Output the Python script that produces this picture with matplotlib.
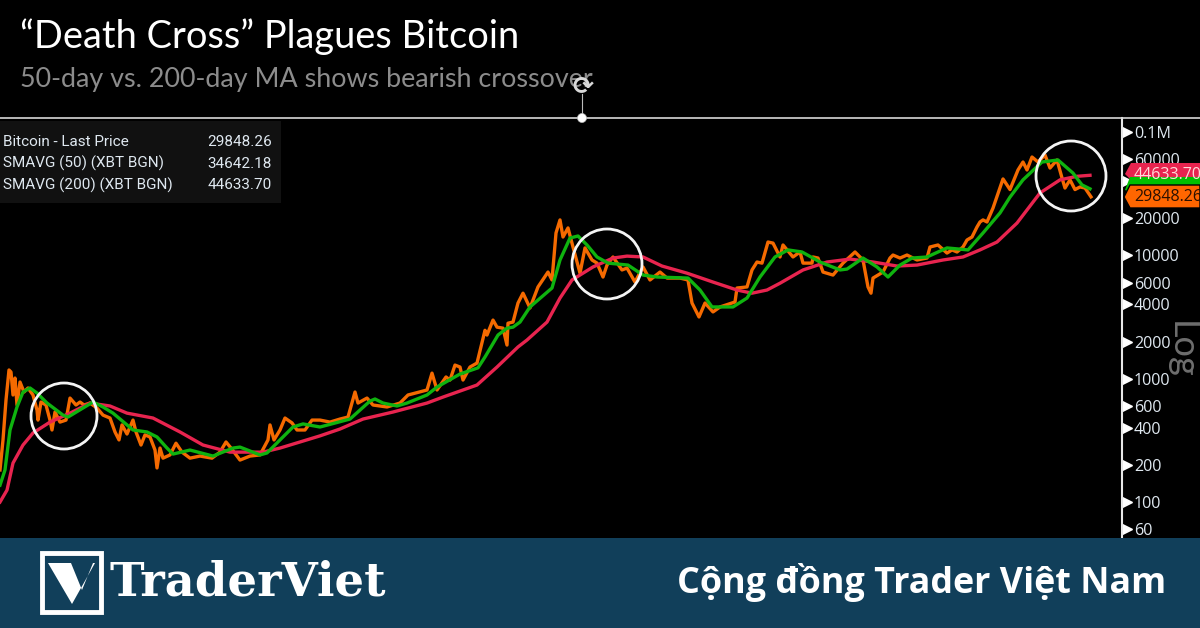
import matplotlib
matplotlib.use("Agg")
from matplotlib import pyplot as plt
from matplotlib.patches import Circle, Polygon, Rectangle

# positions along the time axis, no dates are printed on the chart
price_x = [0, 3, 6, 9, 11, 13, 15, 17, 20, 24, 28, 33, 37, 38, 41, 46, 50, 52, 55, 60, 66, 70, 76, 80, 84, 90, 97,
           103, 110, 115, 119, 122, 127, 133, 136, 141, 145, 150, 155, 157, 160, 163, 170, 176, 182, 190, 200, 212,
           220, 226, 231, 240, 250, 260, 268, 270, 274, 280, 285, 292, 297, 305, 312, 320, 330, 340, 348, 355, 358,
           367, 373, 387, 400, 408, 427, 432, 437, 446, 450, 455, 460, 463, 470, 477, 485, 487, 493, 497, 503, 507,
           508, 513, 518, 523, 530, 538, 548, 552, 556, 560, 563, 568, 573, 580, 585, 592, 597, 603, 607, 613, 622,
           627, 635, 643, 650, 660, 667, 680, 688, 692, 699, 705, 713, 720, 735, 737, 747, 752, 757, 762, 768, 773,
           780, 783, 793, 800, 803, 812, 813, 818, 823, 833, 843, 855, 863, 868, 871, 873, 878, 883, 890, 893, 900,
           907, 917, 927, 930, 938, 947, 952, 957, 963, 967, 972, 977, 980, 983, 987, 993, 1003, 1010, 1018, 1023,
           1027, 1032, 1038, 1045, 1050, 1057, 1062, 1065, 1070, 1075, 1080, 1085, 1091]
price = [182, 319, 672, 1177, 1133, 738, 1013, 612, 940, 780, 841, 738, 557, 462, 647, 612, 462, 384, 537, 445, 462,
         697, 612, 647, 612, 635, 579, 507, 480, 370, 319, 422, 356, 462, 370, 290, 350, 337, 264, 189, 274, 227, 241,
         300, 254, 227, 236, 227, 254, 307, 274, 219, 236, 241, 319, 422, 319, 384, 480, 438, 384, 384, 462, 462, 445,
         471, 489, 780, 635, 697, 612, 590, 635, 738, 810, 1110, 810, 1033, 976, 1290, 1244, 976, 1244, 1340, 2470,
         2260, 2990, 2620, 2570, 1875, 2820, 2880, 4110, 4940, 3750, 5550, 7330, 6320, 15200, 19400, 14100, 16700,
         11700, 7180, 11500, 9180, 8660, 6680, 8350, 9710, 7620, 7900, 6080, 8060, 6320, 7330, 6550, 6550, 6320, 4110,
         3170, 4110, 3480, 3820, 4190, 5440, 5550, 7620, 8840, 8660, 12840, 12580, 9710, 12150, 9710, 10660, 8660,
         8660, 9710, 9520, 7330, 6930, 8660, 10660, 9180, 5550, 4940, 6550, 6930, 7330, 9520, 10070, 9520, 10070,
         9180, 9520, 11700, 12150, 10450, 11080, 10660, 11700, 13330, 14100, 17000, 18670, 19400, 18670, 24200, 41700,
         34200, 49300, 57200, 49300, 62800, 57200, 65200, 51100, 59400, 42500, 35200, 41000, 34200, 35900, 35200,
         29848.26]

sma50_x = [0, 5, 10, 17, 23, 30, 37, 47, 63, 68, 83, 93, 103, 113, 133, 147, 157, 167, 173, 190, 213, 233, 240, 260,
           267, 280, 293, 303, 320, 350, 370, 375, 383, 397, 407, 427, 437, 460, 478, 485, 498, 507, 513, 520, 530,
           552, 560, 570, 578, 587, 597, 608, 628, 643, 657, 688, 700, 712, 733, 747, 760, 775, 788, 802, 820, 840,
           847, 863, 877, 888, 900, 912, 927, 947, 968, 983, 1000, 1010, 1023, 1042, 1058, 1073, 1082, 1090]
sma50 = [137, 182, 384, 590, 780, 841, 765, 635, 507, 489, 579, 647, 590, 526, 384, 370, 337, 274, 245, 264, 236, 274,
         279, 241, 250, 319, 406, 430, 406, 471, 659, 685, 635, 601, 635, 738, 856, 1092, 1226, 1500, 2260, 2570, 2620,
         2880, 3820, 5440, 9180, 13840, 14370, 12150, 9710, 8660, 8350, 6930, 6680, 6550, 5240, 3820, 3820, 4510, 6680,
         9710, 11080, 10660, 8840, 7620, 7750, 9520, 8060, 6680, 8350, 9520, 9710, 11500, 11080, 15200, 22100, 29700,
         41000, 57200, 59400, 46500, 37300, 34642.18]

sma200_x = [0, 7, 13, 23, 33, 50, 70, 90, 110, 127, 153, 180, 203, 230, 263, 280, 300, 320, 340, 363, 393, 427, 443,
            477, 497, 518, 527, 547, 560, 572, 593, 613, 627, 643, 662, 687, 713, 737, 752, 767, 780, 803, 827, 850,
            873, 897, 917, 943, 963, 980, 997, 1017, 1040, 1060, 1077, 1090]
sma200 = [100, 125, 207, 290, 363, 445, 526, 635, 601, 526, 480, 370, 290, 254, 254, 274, 307, 344, 391, 471, 537, 635,
          710, 889, 1244, 1810, 2060, 2880, 4510, 6320, 8060, 9520, 9870, 9710, 8200, 7180, 6080, 5240, 4940, 5240,
          5950, 7620, 8840, 9340, 8840, 8200, 8350, 9180, 9710, 11080, 12840, 18300, 32100, 41000, 43800, 44633.70]

tick_values = [100000, 60000, 40000, 20000, 10000, 6000, 4000, 2000, 1000, 600, 400, 200, 100, 60]
tick_labels = ["0.1M", "60000", "40000", "20000", "10000", "6000", "4000", "2000", "1000", "600", "400", "200", "100", "60"]

legend_names = ["Bitcoin - Last Price", "SMAVG (50) (XBT BGN)", "SMAVG (200) (XBT BGN)"]
legend_values = ["29848.26", "34642.18", "44633.70"]

title = "\u201cDeath Cross\u201d Plagues Bitcoin"
subtitle = "50-day vs. 200-day MA shows bearish crossover"
slogan = "C\u1ed9ng \u0111\u1ed3ng Trader Vi\u1ec7t Nam"

ORANGE = "#f56a00"
GREEN = "#0fb30f"
RED = "#e8244f"
BANNER = "#113f5a"

W, H = 1200, 628
fig = plt.figure(figsize=(12, 6.28), dpi=100, facecolor="black")

# chart area: between the white rule and the banner, right spine at 1122
ax = fig.add_axes([0, (H - 538) / H, 1122 / W, 420 / H], facecolor="black")
ax.set_yscale("log")
ax.set_xlim(0, 1122)
ax.set_ylim(51.1, 130100)
ax.plot(price_x, price, color=ORANGE, lw=2.4, solid_joinstyle="round")
ax.plot(sma200_x, sma200, color=RED, lw=2.4)
ax.plot(sma50_x, sma50, color=GREEN, lw=2.4)
ax.set_xticks([])
ax.yaxis.tick_right()
ax.set_yticks(tick_values)
ax.set_yticklabels(tick_labels, fontfamily="Open Sans", fontsize=11.6, color="#dfe8f0")
ax.minorticks_off()
ax.tick_params(axis="y", length=0, pad=8.5)
for name in ["top", "left", "bottom"]:
    ax.spines[name].set_visible(False)
ax.spines["right"].set_color("#e8e8e8")
ax.spines["right"].set_linewidth(1.5)
ax.plot([1127] * len(tick_values), tick_values, ls="none", marker=">", ms=7, mfc="white", mec="white", clip_on=False)

# overlay in image pixels for everything that is not data
ov = fig.add_axes([0, 0, 1, 1], facecolor="none")
ov.set_xlim(0, W)
ov.set_ylim(H, 0)
ov.axis("off")

ov.text(20, 37, title, color="white", fontsize=27.4, family="Lato", va="center")
ov.text(20, 79, subtitle, color="#8c8c8c", fontsize=19.4, family="Lato", va="center")

ov.plot([0, W], [118, 118], color="#d8d8d8", lw=1.2)
ov.plot([582, 582], [118, 94], color="#bbbbbb", lw=0.8)
ov.add_patch(Circle((582, 118), 4.5, fc="white", ec="#bbbbbb", lw=0.5, zorder=5))
ov.text(583, 86, "\u27f3", color="#d8d8d8", fontsize=18, ha="center", va="center", family="DejaVu Sans", fontweight="bold")

ov.add_patch(Rectangle((0, 121), 281, 82, fc="#111111", ec="none"))
for i in range(3):
    y = 142 + i * 21.5
    ov.text(3, y, legend_names[i], color="#dfe8f0", fontsize=11, family="Roboto", va="center")
    ov.text(272, y, legend_values[i], color="#dfe8f0", fontsize=11, family="Roboto", va="center", ha="right")

for cx, cy, r in [(64, 416, 33), (607, 264, 35), (1071, 176, 35)]:
    ov.add_patch(Circle((cx, cy), r, fc="none", ec="#f4f4f4", lw=2))

# value tags on the axis
ov.add_patch(Polygon([(1125, 174), (1131, 163), (1200, 163), (1200, 180), (1131, 180)], fc=RED, ec="none"))
ov.text(1134, 175, legend_values[2], color="#ffd9d9", fontsize=11.5, family="Open Sans", va="center")
ov.add_patch(Polygon([(1125, 190), (1130, 177), (1200, 177), (1200, 192), (1130, 192)], fc="#00c000", ec="none"))
ov.add_patch(Polygon([(1124, 197), (1130, 185), (1200, 185), (1200, 208), (1130, 208)], fc="#ff6600", ec="black", lw=1))
ov.text(1134, 197, legend_values[0], color="#2a1000", fontsize=11.5, family="Open Sans", va="center", clip_on=True)

ov.text(1181, 350, "Log", color="#6e6e6e", fontsize=26, family="Lato", rotation=270, ha="center", va="center", zorder=0)

# banner with logo
ov.add_patch(Rectangle((0, 538), W, 90, fc=BANNER, ec="none", zorder=6))
ov.add_patch(Rectangle((42, 553), 59, 59, fc=BANNER, ec="white", lw=3.5, zorder=7))
ov.add_patch(Polygon([(48, 563), (71, 563), (82, 590), (93, 563), (95, 563), (72, 604)], fc="white", ec="none", zorder=8))
ov.text(109, 583, "TraderViet", color="white", fontsize=33.5, family="DejaVu Serif", fontweight="bold", va="center", zorder=8)
ov.text(1166, 582, slogan, color="white", fontsize=25.8, family="Open Sans", fontweight="bold", va="center", ha="right", zorder=8)

plt.savefig("out.png", dpi=100, facecolor="black")
plt.close()
